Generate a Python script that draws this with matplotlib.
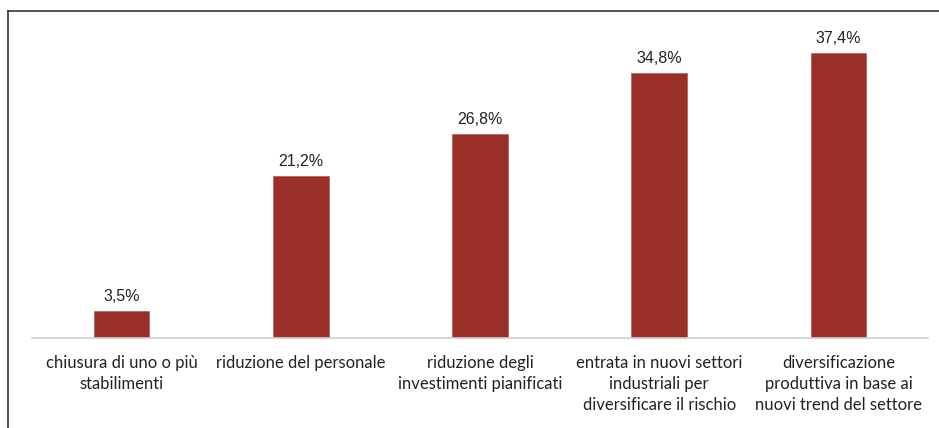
import matplotlib
matplotlib.use("Agg")
import matplotlib.pyplot as plt
from matplotlib.lines import Line2D

categories = [
    "chiusura di uno o più\nstabilimenti",
    "riduzione del personale",
    "riduzione degli\ninvestimenti pianificati",
    "entrata in nuovi settori\nindustriali per\ndiversificare il rischio",
    "diversificazione\nproduttiva in base ai\nnuovi trend del settore",
]
values = [3.5, 21.2, 26.8, 34.8, 37.4]
value_labels = ["3,5%", "21,2%", "26,8%", "34,8%", "37,4%"]

W, H = 939, 428
fig = plt.figure(figsize=(W / 100, H / 100), dpi=100)
ax = fig.add_axes([32 / W, 1 - 338 / H, (928 - 32) / W, (338 - 33) / H])

bar_color = "#992F28"
x = list(range(len(categories)))
ax.bar(x, values, width=0.31, color=bar_color, edgecolor="#B85A52", linewidth=0.5)
ax.set_xlim(-0.5, len(categories) - 0.5)
ax.set_ylim(0, 40)

for xi, v, lab in zip(x, values, value_labels):
    ax.annotate(lab, (xi, v), xytext=(0, 5), textcoords="offset points",
                ha="center", va="bottom", fontsize=11.5, color="#222222",
                family=["Liberation Sans", "DejaVu Sans"])

for xi, c in zip(x, categories):
    ax.annotate(c, (xi, 0), xytext=(0, -12), textcoords="offset points",
                ha="center", va="top", fontsize=12, color="#222222",
                family=["Lato", "DejaVu Sans"], linespacing=1.4)

for s in ["top", "right", "left"]:
    ax.spines[s].set_visible(False)
ax.spines["bottom"].set_color("#D0D0D0")
ax.spines["bottom"].set_linewidth(1.2)
ax.set_xticks([])
ax.set_yticks([])

# figure frame
fig.add_artist(Line2D([8 / W, 1.0], [1 - 11 / H, 1 - 11 / H], transform=fig.transFigure,
                      color="#333333", linewidth=1.2))
fig.add_artist(Line2D([8 / W, 8 / W], [0, 1 - 11 / H], transform=fig.transFigure,
                      color="#333333", linewidth=1.2))

fig.savefig("out.png", dpi=100)
